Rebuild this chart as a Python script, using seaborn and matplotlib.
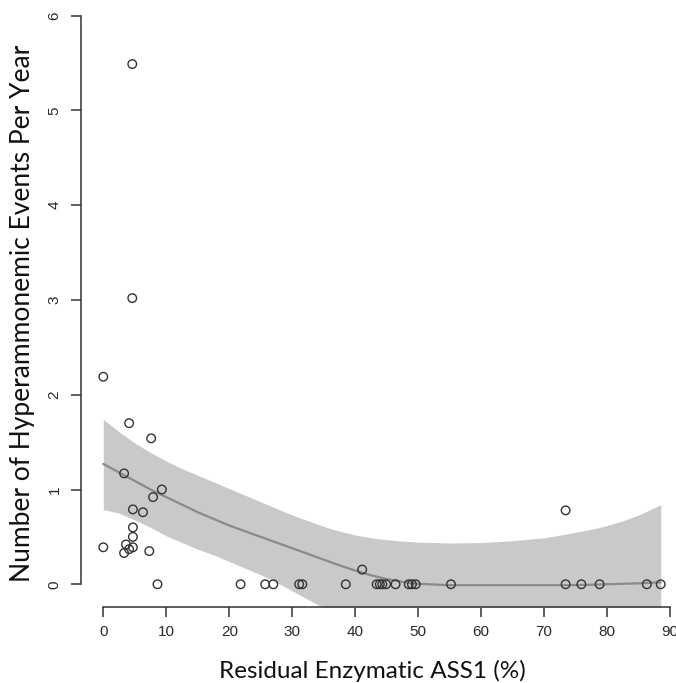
import numpy as np
import pandas as pd
import matplotlib
matplotlib.use("Agg")
import matplotlib.pyplot as plt
import seaborn as sns

# observed patients: residual enzyme activity vs. events per year
residual_pct = [4.6, 4.6, 0.0, 4.1, 7.6,
                3.3, 9.3, 7.9, 4.7, 6.3, 4.7, 4.7, 0.0, 3.6, 4.7, 4.1, 3.3, 7.3, 8.6,
                21.8, 25.7, 27.0, 31.1, 31.6, 38.5, 41.1, 43.4, 43.9, 44.3, 44.9,
                46.4, 48.5, 49.0, 49.6, 55.2,
                73.4, 73.4, 75.9, 78.8, 86.3, 88.5]
events_per_year = [5.49, 3.02, 2.19, 1.70, 1.54,
                   1.17, 1.00, 0.92, 0.79, 0.76, 0.60, 0.50, 0.39, 0.42, 0.39, 0.37, 0.33, 0.35, 0.0,
                   0.0, 0.0, 0.0, 0.0, 0.0, 0.0, 0.155, 0.0, 0.0, 0.0, 0.0,
                   0.0, 0.0, 0.0, 0.0, 0.0,
                   0.78, 0.0, 0.0, 0.0, 0.0, 0.0]

# smoothed fit and its confidence band
fit_x = [0, 2.5, 5, 7.5, 10, 12.5, 15, 17.5, 20, 22.5, 25, 27.5, 30, 32.5, 35,
         37.5, 40, 42.5, 45, 47.5, 50, 55, 60, 65, 70, 73.5, 77.5, 80, 82.5,
         85, 88.5]
fit_y = [1.27, 1.18, 1.09, 1.00, 0.92, 0.84, 0.76, 0.69, 0.62, 0.56, 0.50, 0.44,
         0.38, 0.32, 0.26, 0.20, 0.145, 0.095, 0.055, 0.025, 0.005, -0.01, -0.01,
         -0.01, -0.01, -0.01, -0.005, 0.0, 0.005, 0.01, 0.02]
band_hi = [1.74, 1.61, 1.49, 1.39, 1.30, 1.22, 1.15, 1.08, 1.01, 0.94, 0.87, 0.80,
           0.73, 0.67, 0.61, 0.56, 0.52, 0.49, 0.47, 0.455, 0.445, 0.435, 0.44,
           0.46, 0.49, 0.53, 0.58, 0.62, 0.67, 0.73, 0.84]
band_lo = [0.79, 0.75, 0.68, 0.60, 0.51, 0.44, 0.37, 0.31, 0.24, 0.17, 0.10, 0.02,
           -0.07, -0.16, -0.25, -0.32, -0.38, -0.42, -0.45, -0.47, -0.48, -0.50,
           -0.52, -0.55, -0.58, -0.60, -0.64, -0.67, -0.70, -0.74, -0.80]

x_ticks = [0, 10, 20, 30, 40, 50, 60, 70, 80, 90]
y_ticks = [0, 1, 2, 3, 4, 5, 6]

df = pd.DataFrame({"x": residual_pct, "y": events_per_year})

sns.set_style("ticks")
plt.rcParams["font.family"] = ["Liberation Sans", "DejaVu Sans"]

W, H = 676, 683
fig = plt.figure(figsize=(W / 100, H / 100), dpi=100)
# axes placed in pixel terms, running past the top/right edge like the cropped original
left_px, right_px, bottom_px, top_px = 81, 683, 607, -7
ax = fig.add_axes([left_px / W, (H - bottom_px) / H,
                   (right_px - left_px) / W, (bottom_px - top_px) / H])

ax.fill_between(fit_x, band_lo, band_hi, color="#c9c9c9", linewidth=0, zorder=1)
sns.lineplot(x=fit_x, y=fit_y, ax=ax, color="#8a8a8a", linewidth=1.6, zorder=2)
sns.scatterplot(data=df, x="x", y="y", ax=ax, marker="o", s=38,
                facecolor="none", edgecolor="#333333", linewidth=1.0, zorder=3)

ax.set_xlim(-3.54, 92.04)
ax.set_ylim(-0.24, 6.24)
ax.set_xticks(x_ticks)
ax.set_yticks(y_ticks)

for side in ["top", "right"]:
    ax.spines[side].set_visible(False)
ax.spines["bottom"].set_bounds(0, 90)
ax.spines["left"].set_bounds(0, 6)
for side in ["bottom", "left"]:
    ax.spines[side].set_color("#333333")
    ax.spines[side].set_linewidth(1.1)

ax.tick_params(axis="both", direction="out", length=7, width=1.1,
               color="#333333", labelsize=11, labelcolor="#2a2a2a")
ax.tick_params(axis="x", pad=6)
ax.tick_params(axis="y", pad=7)
for lbl in ax.get_yticklabels():
    lbl.set_rotation(90)
    lbl.set_va("center")

ax.set_xlabel("Residual Enzymatic ASS1 (%)", fontsize=17.5, family=["Lato", "DejaVu Sans"],
              color="#111111")
ax.set_ylabel("Number of Hyperammonemic Events Per Year", fontsize=19,
              family=["Lato", "DejaVu Sans"], color="#111111")
# label centres placed where they sit in the original
ax.xaxis.set_label_coords((372 - left_px) / (right_px - left_px),
                          -(671 - bottom_px) / (bottom_px - top_px))
ax.yaxis.set_label_coords((23 - left_px) / (right_px - left_px),
                          (bottom_px - 313) / (bottom_px - top_px))
ax.xaxis.label.set_va("center")
ax.yaxis.label.set_va("center")

fig.savefig("out.png", dpi=100)
